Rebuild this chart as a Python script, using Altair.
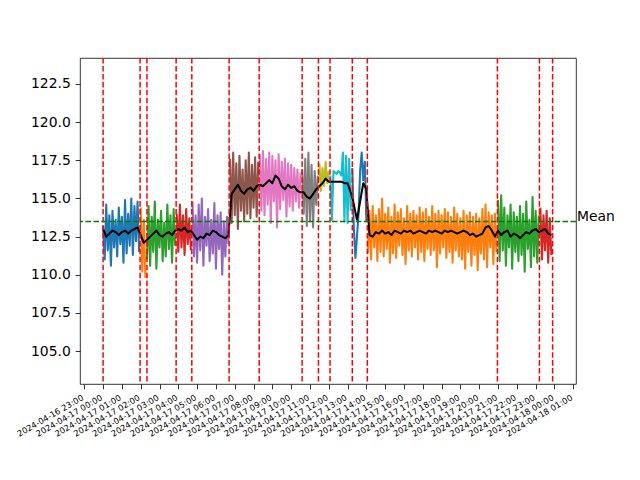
import altair as alt
import pandas as pd

# ---- raw series, one list per segment (5-minute samples) ----
seg00 = [113.2, 111.0, 114.6, 111.6, 113.9, 110.6, 114.2, 111.8, 113.6, 111.2, 114.4, 112.0,
         113.8, 110.8, 114.9, 111.4, 114.0, 111.9, 115.0, 111.3, 114.5, 112.2, 114.8, 111.5]
seg01 = [114.4, 110.2, 113.6, 109.8]
seg02 = [111.0, 114.5, 110.6, 113.8, 111.5, 114.8, 110.4, 113.6, 111.8, 114.2, 110.9, 113.4,
         111.2, 114.6, 111.7, 113.9, 110.8, 114.3, 111.9]
seg03 = [114.0, 111.5, 114.6, 111.8, 113.9, 111.3, 114.3, 112.0, 113.7, 111.6]
seg04 = [114.8, 111.2, 113.9, 110.8, 114.6, 111.6, 115.0, 110.6, 113.8, 111.9, 114.3, 110.9,
         113.6, 111.4, 114.7, 110.4, 113.9, 111.7, 114.1, 110.0, 113.5, 111.2, 113.8, 112.0]
seg05 = [117.6, 113.4, 118.0, 113.9, 117.3, 113.0, 117.8, 114.2, 116.9, 113.5, 117.5, 114.0,
         118.0, 113.7, 117.2, 114.4, 117.7, 113.8, 117.4]
seg06 = [117.9, 114.2, 118.1, 113.9, 117.6, 114.6, 118.0, 113.4, 117.8, 114.8, 117.5, 113.1,
         117.9, 114.3, 117.4, 114.9, 117.6, 113.8, 117.3, 114.5, 117.2, 114.2, 117.0, 114.8,
         116.9, 114.4, 116.7]
seg07 = [116.9, 114.0, 117.6, 113.2, 118.0, 113.5, 117.2, 113.1, 116.8, 114.6, 116.5]
seg08 = [117.3, 115.5, 117.0, 115.8, 117.4, 116.0, 116.8]
seg09 = [116.5, 113.6, 116.8, 116.7, 116.6, 116.8, 116.7, 116.5, 118.0, 113.5, 117.8, 113.4,
         117.6, 114.2]
seg10 = [117.0, 113.0, 111.1, 112.5, 114.0, 116.8, 118.0, 116.2, 117.4, 113.5]
seg11 = [111.4, 114.2, 111.0, 114.5, 111.8, 113.9, 110.9, 114.3, 111.5, 115.0,
         111.2, 114.0, 111.7, 114.4, 110.8, 113.8, 111.4, 114.6, 111.1, 114.1,
         111.9, 114.3, 111.3, 113.7, 110.7, 114.5, 111.6, 114.0, 111.2, 114.2,
         111.8, 113.9, 111.0, 114.4, 111.5, 114.1, 110.9, 114.3, 111.7, 113.8,
         111.3, 114.5, 111.6, 114.0, 110.5, 114.2, 111.4, 113.9, 111.8, 114.3,
         111.1, 114.1, 111.5, 113.8, 110.8, 114.4, 111.6, 114.0, 111.2, 113.7,
         111.0, 114.2, 110.4, 113.9, 111.5, 114.1, 110.6, 113.8, 111.3, 114.0,
         110.3, 113.7, 111.4, 114.3, 111.0, 114.6, 110.5, 114.1, 111.8, 113.9,
         110.7, 114.0, 111.5]
seg12 = [114.9, 110.9, 115.2, 111.6, 114.4, 110.6, 113.9, 111.8, 114.6, 110.4, 114.1, 111.5,
         113.8, 110.9, 114.5, 111.3, 114.0, 110.2, 114.8, 111.7, 113.6, 110.5, 115.1, 111.2,
         114.2, 110.8, 113.9]
seg13 = [114.4, 111.0, 113.9, 111.6, 114.2, 110.8, 113.7, 111.3]

segments = [seg00, seg01, seg02, seg03, seg04, seg05, seg06, seg07, seg08, seg09,
            seg10, seg11, seg12, seg13]
seg_colors = ["#1f77b4", "#ff7f0e", "#2ca02c", "#d62728", "#9467bd", "#8c564b",
              "#e377c2", "#7f7f7f", "#bcbd22", "#17becf", "#1f77b4", "#ff7f0e",
              "#2ca02c", "#d62728"]

# ---- rolling mean (10-minute samples from 00:00) ----
rolling_mean = [
    113.0, 112.5, 112.7, 112.9, 112.8, 112.6, 112.8, 112.9, 112.7, 112.9, 113.0, 113.1,
    112.6, 112.1,
    112.3, 112.5, 112.7, 112.9, 112.6, 112.5, 112.7, 112.8, 112.6, 112.9,
    113.0, 112.9, 113.1, 112.8, 112.9,
    112.6, 112.3, 112.5, 112.4, 112.7, 112.6, 112.9, 112.8, 112.6, 112.5, 112.4, 112.6,
    115.3, 115.6, 115.9, 115.5, 115.3, 115.6, 115.7, 115.5, 115.8,
    115.9, 115.8, 116.0, 116.2, 116.0, 116.5, 116.3, 115.8, 115.6, 115.9, 115.7, 115.8, 115.5, 115.4,
    115.4, 115.1, 115.0, 115.3, 115.6,
    115.8, 116.0, 116.3, 116.1,
    116.1, 116.1, 116.1, 116.1, 116.0, 116.0, 115.4,
    114.6, 113.6, 114.8, 116.0, 115.6,
    112.6, 112.5, 112.8, 112.7, 112.9,
    112.7, 112.8, 112.6, 112.9, 112.8, 112.7,
    112.9, 112.8, 112.9, 112.7, 112.8, 112.9,
    112.8, 112.7, 112.9, 112.8, 112.9, 112.8,
    112.7, 112.9, 112.8, 112.9, 112.8, 112.7,
    112.8, 112.9, 112.8, 112.6, 112.7, 112.5,
    112.6, 112.7, 113.1, 113.2, 112.9, 112.5,
    112.9, 112.6, 112.8, 112.9, 112.5, 112.7, 112.6, 112.4, 112.6, 112.8, 112.7, 112.9, 113.0, 112.8,
    112.9, 113.0, 112.7, 112.6,
]

change_points = ["2024-04-17T00:00:00", "2024-04-17T01:58:00", "2024-04-17T02:20:00",
                 "2024-04-17T03:53:00", "2024-04-17T04:43:00", "2024-04-17T06:42:00",
                 "2024-04-17T08:18:00", "2024-04-17T10:35:00", "2024-04-17T11:27:00",
                 "2024-04-17T12:04:00", "2024-04-17T13:15:00", "2024-04-17T14:03:00",
                 "2024-04-17T20:58:00", "2024-04-17T23:12:00", "2024-04-17T23:54:00"]
mean_value = 113.5
mean_label = "Mean"

# ---- build tables ----
start = pd.Timestamp("2024-04-17 00:00")
rows = []
i = 0
for k, seg in enumerate(segments):
    for v in seg:
        rows.append({"time": (start + pd.Timedelta(minutes=5 * i)).strftime("%Y-%m-%dT%H:%M:%S"),
                     "value": v, "seg": k})
        i += 1
raw_df = pd.DataFrame(rows)

mean_df = pd.DataFrame({
    "time": [(start + pd.Timedelta(minutes=10 * j)).strftime("%Y-%m-%dT%H:%M:%S")
             for j in range(len(rolling_mean))],
    "value": rolling_mean,
})
cp_df = pd.DataFrame({"time": change_points})
mv_df = pd.DataFrame({"value": [mean_value], "label": [mean_label]})

x_ticks = [alt.DateTime(year=2024, month=4, date=16, hours=23)] + \
          [alt.DateTime(year=2024, month=4, date=17, hours=h) for h in range(24)] + \
          [alt.DateTime(year=2024, month=4, date=18, hours=h) for h in range(2)]

x_scale = alt.Scale(domain=[alt.DateTime(year=2024, month=4, date=16, hours=22, minutes=46, seconds=20),
                            alt.DateTime(year=2024, month=4, date=18, hours=1, minutes=8, seconds=40)])
y_scale = alt.Scale(domain=[102.85, 124.2], nice=False, zero=False)

x_axis = alt.Axis(values=x_ticks, format="%Y-%m-%d %H:%M",
                  labelAngle=-30, labelAlign="right",
                  labelBaseline="top", labelFontSize=8.33, labelOffset=-4, title=None,
                  grid=False, tickSize=4.86, labelPadding=4.0, domain=False,
                  tickColor="black", tickWidth=0.8, labelColor="black", labelFont="DejaVu Sans",
                  labelOverlap=False, labelFlush=False)
y_axis = alt.Axis(values=[105.0, 107.5, 110.0, 112.5, 115.0, 117.5, 120.0, 122.5], format=".1f",
                  labelFontSize=13.9, title=None, grid=False, tickSize=4.86, labelPadding=4.86,
                  domain=False, tickColor="black", tickWidth=0.8, labelColor="black",
                  labelFont="DejaVu Sans", labelOverlap=False, labelFlush=False)

X = alt.X("time:T", scale=x_scale, axis=x_axis)
Y = alt.Y("value:Q", scale=y_scale, axis=y_axis)

raw = alt.Chart(raw_df).mark_line(strokeWidth=2.1, clip=True, strokeJoin="round").encode(
    x=X, y=Y,
    color=alt.Color("seg:N", scale=alt.Scale(domain=list(range(len(segments))), range=seg_colors),
                    legend=None),
)

black = alt.Chart(mean_df).mark_line(strokeWidth=2.0, color="black", clip=True,
                                     strokeJoin="round").encode(x=X, y=Y)

vlines = alt.Chart(cp_df).mark_rule(color="red", strokeWidth=1.5, strokeDash=[5.55, 2.4],
                                    clip=True).encode(x=X)

hline = alt.Chart(mv_df).mark_rule(color="green", strokeWidth=1.5, strokeDash=[5.55, 2.4],
                                   clip=True).encode(y=Y)

label = alt.Chart(mv_df).mark_text(align="left", baseline="alphabetic", fontSize=13.9,
                                   font="DejaVu Sans", color="black", dx=1).encode(
    x=alt.value(496), y=Y, text="label:N")

chart = alt.layer(raw, black, vlines, hline, label).properties(
    width=496, height=326,
    padding={"left": 80, "top": 58, "right": 64, "bottom": 96},
    autosize="none",
    background="white",
).configure_view(stroke="black", strokeWidth=0.8)

chart.save("out.html", embed_options={"renderer": "svg", "actions": False})
